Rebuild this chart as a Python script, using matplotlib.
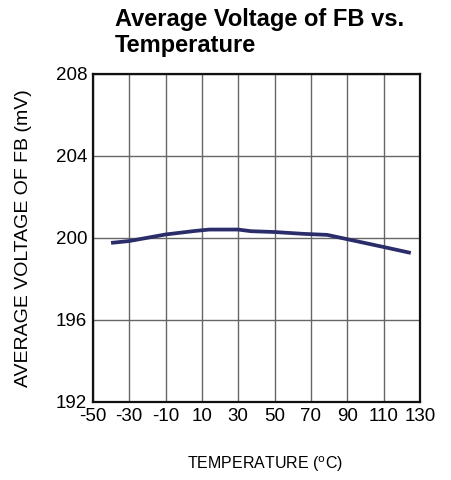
import numpy as np
import matplotlib.pyplot as plt

plt.rcParams['font.family'] = ['Liberation Sans', 'DejaVu Sans']
plt.rcParams['axes.unicode_minus'] = False

# Data
temp = [-40, -30, -10, 6, 14, 30, 37, 50, 66, 79, 90, 110, 125]
vfb = [199.76, 199.85, 200.17, 200.34, 200.41, 200.41, 200.33, 200.29, 200.2, 200.15, 199.94, 199.56, 199.27]

xticks = [-50, -30, -10, 10, 30, 50, 70, 90, 110, 130]
yticks = [192, 196, 200, 204, 208]

fig = plt.figure(figsize=(4.51, 4.8), dpi=100)
ax = fig.add_axes([0.206, 0.1625, 0.725, 0.6835])

ax.plot(temp, vfb, color='#2b2d6b', linewidth=2.7, solid_capstyle='butt', zorder=3)

ax.set_xlim(-50, 130)
ax.set_ylim(192, 208)
ax.set_xticks(xticks)
ax.set_yticks(yticks)
ax.grid(True, color='#666666', linewidth=1.0)
ax.tick_params(length=0, labelsize=13.5, pad=4)
for s in ax.spines.values():
    s.set_linewidth(1.6)
    s.set_color('#111111')

ax.set_ylabel('AVERAGE VOLTAGE OF FB (mV)', fontsize=14, labelpad=17)
fig.text(0.587, 0.022, 'TEMPERATURE ($^{\\rm o}$C)', fontsize=11.5, ha='center')

fig.text(0.255, 0.882, 'Average Voltage of FB vs.\nTemperature', fontsize=17,
         fontweight='bold', ha='left', va='bottom', linespacing=1.15)

fig.savefig('out.png', dpi=100)
